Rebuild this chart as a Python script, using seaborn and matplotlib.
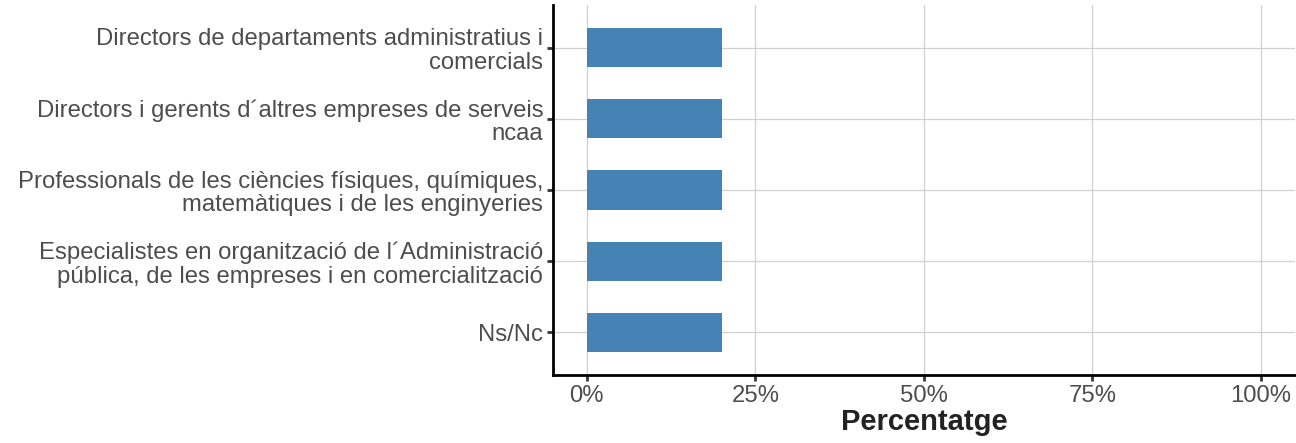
import pandas as pd
import numpy as np
import matplotlib
matplotlib.use("Agg")
import matplotlib.pyplot as plt
import seaborn as sns
from matplotlib.ticker import FuncFormatter

sns.set_theme(style="whitegrid")
plt.rcParams['font.family'] = ['Liberation Sans', 'DejaVu Sans']

# data
categories = [
    "Directors de departaments administratius i\ncomercials",
    "Directors i gerents d\u00b4altres empreses de serveis\nncaa",
    "Professionals de les ci\u00e8ncies f\u00edsiques, qu\u00edmiques,\nmatem\u00e0tiques i de les enginyeries",
    "Especialistes en organitzaci\u00f3 de l\u00b4Administraci\u00f3\np\u00fablica, de les empreses i en comercialitzaci\u00f3",
    "Ns/Nc",
]
percent = [20, 20, 20, 20, 20]
x_ticks = [0, 25, 50, 75, 100]

df = pd.DataFrame({"cat": categories, "pct": percent})

fig, ax = plt.subplots(figsize=(12.96, 4.43), dpi=100)
fig.subplots_adjust(left=0.4267, right=0.999, top=0.9887, bottom=0.1535)

sns.barplot(data=df, x="pct", y="cat", orient="h", color="#4682B4",
            saturation=1, width=0.55, linewidth=0, ax=ax, zorder=3)

ax.set_xlim(-5, 105)
ax.set_ylim(4.6, -0.6)
ax.set_xticks(x_ticks)
ax.xaxis.set_major_formatter(FuncFormatter(lambda v, p: f"{v:.0f}%"))

ax.grid(True, axis="both", color="#D0D0D0", linewidth=0.9, zorder=0)
ax.set_axisbelow(True)
for s in ["top", "right"]:
    ax.spines[s].set_visible(False)
for s in ["left", "bottom"]:
    ax.spines[s].set_visible(True)
    ax.spines[s].set_color("black")
    ax.spines[s].set_linewidth(2)

ax.tick_params(axis="both", which="both", length=4, width=2, color="#333333",
               labelcolor="#4D4D4D", labelsize=17.2, pad=3, left=True, bottom=True)
for t in ax.get_yticklabels():
    t.set_linespacing(1.1)

ax.set_ylabel("")
ax.set_xlabel("Percentatge", fontsize=21, fontweight="bold", color="#222222", labelpad=1)

fig.savefig("out.png", dpi=100)
